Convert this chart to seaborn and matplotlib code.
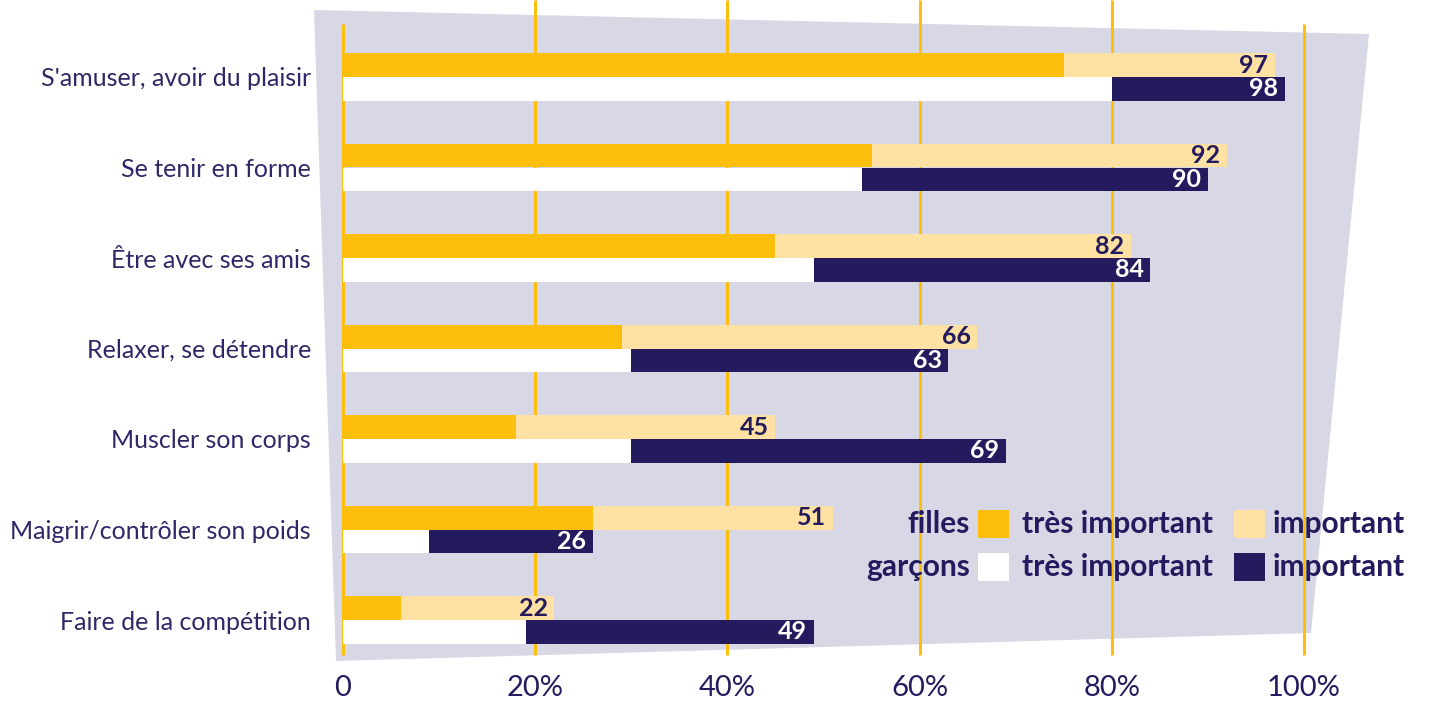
"""Motivations sportives des filles et des garçons : barres horizontales empilées."""
import matplotlib
matplotlib.use("Agg")
import matplotlib.pyplot as plt
from matplotlib.patches import Polygon, Rectangle
import pandas as pd
import seaborn as sns

categories = [
    "S'amuser, avoir du plaisir",
    "Se tenir en forme",
    "Être avec ses amis",
    "Relaxer, se détendre",
    "Muscler son corps",
    "Maigrir/contrôler son poids",
    "Faire de la compétition",
]
filles_tres = [75, 55, 45, 29, 18, 26, 6]
filles_total = [97, 92, 82, 66, 45, 51, 22]
garcons_tres = [80, 54, 49, 30, 30, 9, 19]
garcons_total = [98, 90, 84, 63, 69, 26, 49]
sexes = ["filles", "garçons"]
xticks = [0, 20, 40, 60, 80, 100]
xtick_labels = ["0", "20%", "40%", "60%", "80%", "100%"]

GOLD = "#FDBE0C"
LIGHT = "#FEE1A3"
NAVY = "#241B5E"
TEXT = "#2F2868"
BG = "#D8D7E6"
W, H = 1429, 704

df = pd.DataFrame({
    "categorie": categories * 2,
    "sexe": ["filles"] * len(categories) + ["garçons"] * len(categories),
    "tres": filles_tres + garcons_tres,
    "total": filles_total + garcons_total,
})

sns.set_style("white")
plt.rcParams["font.family"] = ["Lato", "DejaVu Sans"]

fig = plt.figure(figsize=(W / 100, H / 100), dpi=100)
ax = fig.add_axes([343 / W, 1 - 665.25 / H, 961 / W, 633.5 / H])
ax.set_facecolor("none")

# trapezoid background, in pixel coordinates of the figure
corners = [(314, 10), (1369, 34), (1311, 633), (336, 661)]
fig.add_artist(Polygon([(x / W, 1 - y / H) for x, y in corners], closed=True,
                       transform=fig.transFigure, facecolor=BG, edgecolor="none",
                       zorder=-1))


def to_data(px, py):
    """Figure pixel -> data coordinates (x: 9.61 px per %, y: 90.5 px per row)."""
    return (px - 343) / 9.61, (py - 77) / 90.5


# gold vertical lines behind the bars
y_top = to_data(0, 0)[1]
y_top_edge = to_data(0, 24)[1]
y_bottom = to_data(0, 655)[1]
for x in xticks:
    top = y_top_edge if x in (0, 100) else y_top
    ax.vlines(x, top, y_bottom, color=GOLD, lw=2.2, zorder=0.5, clip_on=False)

common = dict(data=df, y="categorie", hue="sexe", hue_order=sexes, width=0.53,
              errorbar=None, legend=False, saturation=1, linewidth=0, ax=ax)
sns.barplot(x="total", palette={"filles": LIGHT, "garçons": NAVY}, **common)
sns.barplot(x="tres", palette={"filles": GOLD, "garçons": "white"}, **common)

# value labels at the end of each bar
for i in range(len(categories)):
    ax.text(filles_total[i] - 0.7, i - 0.1325, str(filles_total[i]), ha="right",
            va="center", fontsize=18, fontweight="bold", color=NAVY)
    ax.text(garcons_total[i] - 0.7, i + 0.1325, str(garcons_total[i]), ha="right",
            va="center", fontsize=18, fontweight="bold", color="white")

ax.set_xlim(0, 100)
ax.set_ylim(len(categories) - 0.5, -0.5)
ax.set_xticks(xticks, xtick_labels)
ax.tick_params(axis="x", length=0, pad=7, labelsize=21, labelcolor=NAVY)
ax.tick_params(axis="y", length=0, pad=23, labelsize=18, labelcolor=TEXT)
ax.set_xlabel("")
ax.set_ylabel("")
sns.despine(ax=ax, left=True, bottom=True)

# legend built by hand: two rows, two swatches each
legend_rows = [
    ("filles", 524, GOLD, LIGHT),
    ("garçons", 567, "white", NAVY),
]
for name, py, c1, c2 in legend_rows:
    kw = dict(fontsize=21.5, fontweight="bold", color=NAVY, va="center", clip_on=False)
    ax.text(*to_data(970, py), name, ha="right", **kw)
    for sx, color in ((978, c1), (1234, c2)):
        x0, y0 = to_data(sx, py - 14)
        x1, y1 = to_data(sx + 31, py + 14)
        ax.add_patch(Rectangle((x0, y0), x1 - x0, y1 - y0, facecolor=color,
                               edgecolor="none", clip_on=False, zorder=3))
    ax.text(*to_data(1022, py), "très important", ha="left", **kw)
    ax.text(*to_data(1273, py), "important", ha="left", **kw)

fig.savefig("out.png", dpi=100)
plt.close(fig)
